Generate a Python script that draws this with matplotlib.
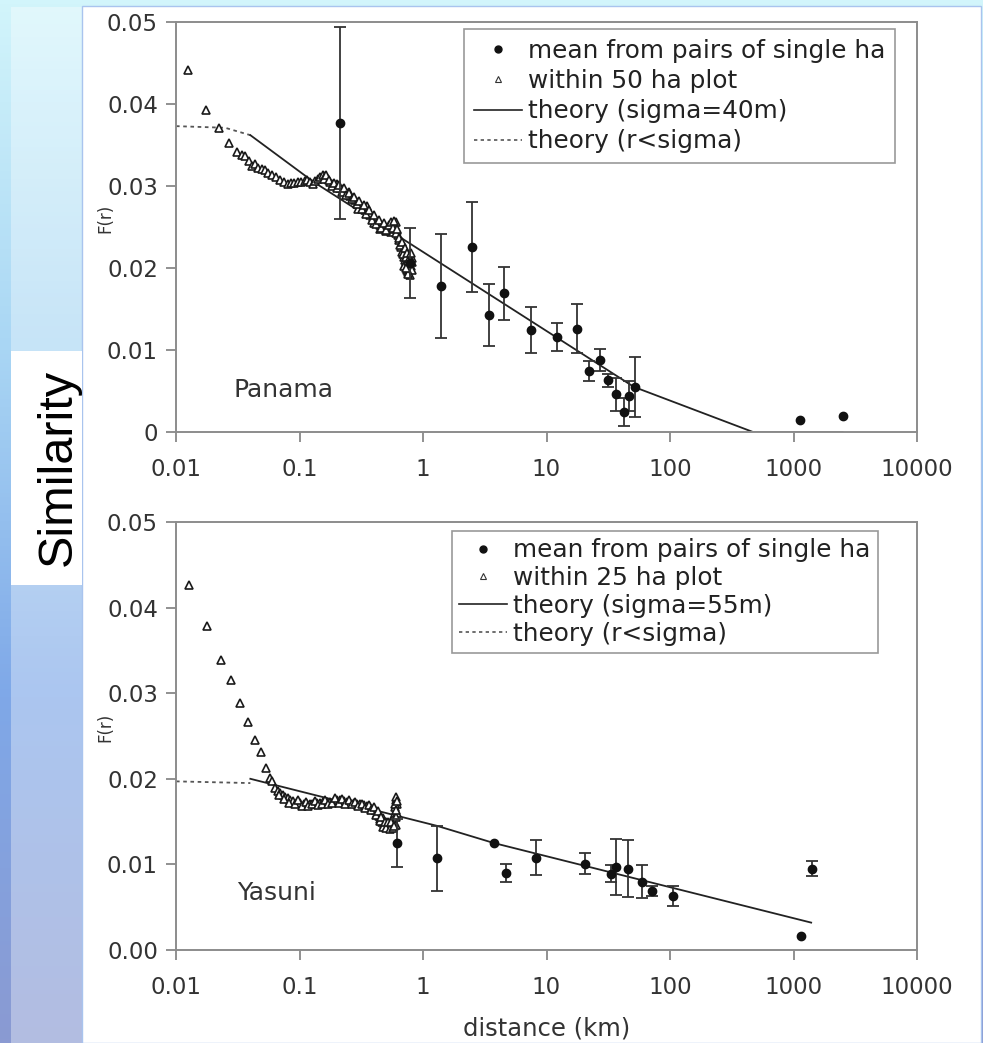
import numpy as np
import matplotlib
matplotlib.use('Agg')
import matplotlib.pyplot as plt
from matplotlib.lines import Line2D
from matplotlib.patches import Rectangle
from matplotlib.colors import LinearSegmentedColormap
from matplotlib.ticker import NullLocator

# ---- data ------------------------------------------------------------------

x_ticks = [0.01, 0.1, 1, 10, 100, 1000, 10000]
x_tick_labels = ['0.01', '0.1', '1', '10', '100', '1000', '10000']
y_ticks = [0, 0.01, 0.02, 0.03, 0.04, 0.05]
pan_y_tick_labels = ['0', '0.01', '0.02', '0.03', '0.04', '0.05']
yas_y_tick_labels = ['0.00', '0.01', '0.02', '0.03', '0.04', '0.05']

# Panama: mean from pairs of single ha (with error bars)
pan_mean_x = [0.214, 0.79, 1.40, 2.50, 3.41, 4.52, 7.43, 12.2, 17.8, 22.1,
              27.1, 31.7, 36.8, 42.5, 46.6, 52.2, 1135, 2535]
pan_mean_y = [0.0377, 0.0206, 0.0178, 0.0226, 0.0143, 0.0169, 0.0124, 0.0116,
              0.0126, 0.0074, 0.0088, 0.0063, 0.0046, 0.0024, 0.0044, 0.0055,
              0.0015, 0.0019]
pan_mean_err = [0.0117, 0.0043, 0.0063, 0.0055, 0.0038, 0.0032, 0.0028,
                0.0017, 0.0030, 0.0012, 0.0013, 0.0008, 0.0020, 0.0017,
                0.0018, 0.0037, 0, 0]

# Panama: within 50 ha plot
pan_plot_x = [0.0125, 0.0174, 0.0224, 0.0269, 0.0314, 0.0340, 0.0363, 0.0390,
              0.0411, 0.0440, 0.0465, 0.050, 0.053, 0.056, 0.060, 0.064,
              0.070, 0.075, 0.080, 0.085, 0.091, 0.097, 0.103, 0.110, 0.116,
              0.122, 0.128, 0.134, 0.140, 0.147, 0.154, 0.161, 0.169, 0.177,
              0.186, 0.195, 0.204, 0.214, 0.224, 0.234, 0.245, 0.257, 0.270,
              0.283, 0.296, 0.310, 0.325, 0.340, 0.357, 0.374, 0.392, 0.411,
              0.430, 0.451, 0.472, 0.495, 0.518, 0.543, 0.560, 0.576, 0.595,
              0.612, 0.628, 0.644, 0.662, 0.682, 0.700, 0.720, 0.735, 0.750,
              0.765, 0.780, 0.795, 0.810, 0.740, 0.760, 0.790, 0.770, 0.720,
              0.700, 0.30, 0.40, 0.35, 0.45, 0.25, 0.20, 0.55, 0.50, 0.60,
              0.58, 0.158, 0.165, 0.172, 0.182, 0.19, 0.20, 0.21, 0.22, 0.23,
              0.24, 0.25, 0.265, 0.277, 0.29, 0.303, 0.318, 0.333, 0.348,
              0.365, 0.383, 0.40, 0.42, 0.44, 0.46, 0.48, 0.505, 0.53, 0.55,
              0.57, 0.585, 0.60, 0.62, 0.635, 0.65, 0.67, 0.69, 0.71, 0.73,
              0.745, 0.76, 0.775, 0.80, 0.815, 0.78, 0.75, 0.82, 0.725,
              0.805]
pan_plot_y = [0.0442, 0.0393, 0.0371, 0.0353, 0.0342, 0.0338, 0.0336, 0.0330,
              0.0325, 0.0327, 0.0322, 0.0321, 0.0320, 0.0316, 0.0313, 0.0311,
              0.0307, 0.0305, 0.0303, 0.0304, 0.0304, 0.0305, 0.0305, 0.0306,
              0.0307, 0.0305, 0.0303, 0.0306, 0.0309, 0.0311, 0.0313, 0.0312,
              0.0309, 0.0305, 0.0303, 0.0301, 0.0299, 0.0297, 0.0296, 0.0294,
              0.0291, 0.0288, 0.0285, 0.0283, 0.0280, 0.0277, 0.0275, 0.0271,
              0.0268, 0.0265, 0.0262, 0.0259, 0.0256, 0.0253, 0.0251, 0.0250,
              0.0249, 0.0250, 0.0252, 0.0253, 0.0250, 0.0246, 0.0240, 0.0234,
              0.0226, 0.0220, 0.0214, 0.0210, 0.0207, 0.0204, 0.0206, 0.0203,
              0.0209, 0.0212, 0.0198, 0.0195, 0.0199, 0.0215, 0.0220, 0.0202,
              0.0272, 0.0255, 0.0276, 0.0248, 0.0293, 0.0302, 0.0244, 0.0245,
              0.0256, 0.0247, 0.0309, 0.0314, 0.0307, 0.0300, 0.0304, 0.0297,
              0.0301, 0.0293, 0.0297, 0.0289, 0.0292, 0.0284, 0.0287, 0.0278,
              0.0282, 0.0272, 0.0277, 0.0266, 0.0271, 0.0259, 0.0265, 0.0254,
              0.0259, 0.0249, 0.0255, 0.0246, 0.0253, 0.0256, 0.0249, 0.0257,
              0.0243, 0.0248, 0.0236, 0.0228, 0.0232, 0.0217, 0.0224, 0.0213,
              0.0218, 0.0209, 0.0200, 0.0203, 0.0197, 0.0192, 0.0193, 0.0207,
              0.0200, 0.0218]

# Panama: theory
pan_theory_x = [0.04, 0.13, 0.66, 51, 470, 2500]
pan_theory_y = [0.0362, 0.0305, 0.0237, 0.0055, 0.0, 0.0]
pan_sigma_x = [0.01, 0.025, 0.04]
pan_sigma_y = [0.0373, 0.0371, 0.0362]

# Yasuni: mean from pairs of single ha (with error bars)
yas_mean_x = [0.617, 1.30, 3.74, 4.66, 8.17, 20.5, 33.5, 36.8, 45.7, 59.8,
              71.1, 106, 1151, 1402]
yas_mean_y = [0.0125, 0.0107, 0.0125, 0.0090, 0.0108, 0.0101, 0.0089, 0.0097,
              0.0095, 0.0080, 0.0069, 0.0063, 0.0016, 0.0095]
yas_mean_err = [0.0028, 0.0038, 0, 0.0011, 0.0020, 0.0012, 0.0010, 0.0033,
                0.0033, 0.0019, 0.0006, 0.0012, 0, 0.0009]

# Yasuni: within 25 ha plot
yas_plot_x = [0.01275, 0.01795, 0.0230, 0.0279, 0.0330, 0.0385, 0.0437,
              0.0489, 0.0536, 0.0577, 0.0595, 0.0635, 0.0665, 0.0698, 0.073,
              0.0765, 0.080, 0.0839, 0.089, 0.0952, 0.101, 0.1078, 0.115,
              0.122, 0.130, 0.138, 0.147, 0.156, 0.166, 0.177, 0.189, 0.201,
              0.214, 0.228, 0.243, 0.258, 0.275, 0.292, 0.310, 0.330, 0.351,
              0.373, 0.390, 0.41, 0.425, 0.438, 0.452, 0.466, 0.48, 0.496,
              0.512, 0.528, 0.544, 0.562, 0.58, 0.59, 0.597, 0.606, 0.61,
              0.617, 0.60, 0.612, 0.50, 0.55, 0.47, 0.60, 0.068, 0.075, 0.082,
              0.092, 0.098, 0.105, 0.112, 0.118, 0.126, 0.134, 0.142, 0.151,
              0.161, 0.171, 0.183, 0.195, 0.207, 0.221, 0.235, 0.25, 0.266,
              0.283, 0.30, 0.32, 0.34, 0.362, 0.38, 0.40, 0.418, 0.432,
              0.445, 0.46, 0.475, 0.49, 0.505, 0.52, 0.536, 0.552, 0.57,
              0.585, 0.593, 0.603, 0.615]
yas_plot_y = [0.0426, 0.0379, 0.0339, 0.0315, 0.0289, 0.0266, 0.0245, 0.0231,
              0.0213, 0.0201, 0.0197, 0.0189, 0.0186, 0.0183, 0.0181, 0.0179,
              0.0177, 0.0175, 0.0174, 0.0173, 0.0172, 0.0171, 0.0171, 0.0171,
              0.0172, 0.0172, 0.0172, 0.0173, 0.0173, 0.0173, 0.0174, 0.0175,
              0.0175, 0.0174, 0.0173, 0.0172, 0.0172, 0.0171, 0.0170, 0.0169,
              0.0168, 0.0167, 0.0165, 0.0163, 0.0160, 0.0157, 0.0153, 0.0150,
              0.0147, 0.0146, 0.0146, 0.0145, 0.0146, 0.0147, 0.0150, 0.0160,
              0.0167, 0.0175, 0.0179, 0.0160, 0.0155, 0.0170, 0.0150, 0.0151,
              0.0154, 0.0146, 0.0181, 0.0176, 0.0172, 0.0170, 0.0175, 0.0168,
              0.0173, 0.0168, 0.0170, 0.0174, 0.0169, 0.0171, 0.0175, 0.0170,
              0.0172, 0.0177, 0.0172, 0.0176, 0.0171, 0.0175, 0.0170, 0.0173,
              0.0168, 0.0171, 0.0166, 0.0169, 0.0163, 0.0167, 0.0158, 0.0162,
              0.0151, 0.0155, 0.0144, 0.0150, 0.0142, 0.0150, 0.0141, 0.0149,
              0.0143, 0.0145, 0.0170, 0.0163, 0.0174]

# Yasuni: theory
yas_theory_x = [0.04, 1.3, 3.74, 1390]
yas_theory_y = [0.0200, 0.0145, 0.0125, 0.0032]
yas_sigma_x = [0.01, 0.04]
yas_sigma_y = [0.0197, 0.0195]

# ---- figure ----------------------------------------------------------------

W, H = 983, 1043
fig = plt.figure(figsize=(W / 100, H / 100), dpi=100)

# Slide background behind the chart image
bg = fig.add_axes([0, 0, 1, 1], zorder=-10)
slide = LinearSegmentedColormap.from_list(
    'slide', ['#d2f5fb', '#a9d6f4', '#7fa8e8', '#8a9ad2'])
bg.imshow(np.linspace(0, 1, 256)[:, None], aspect='auto', cmap=slide,
          extent=[0, W, H, 0])
bg.add_patch(Rectangle((11, 7), 71, H - 7, facecolor='white', alpha=0.35,
                       lw=0))
bg.add_patch(Rectangle((82, 6), W - 84, H - 6, facecolor='white',
                       edgecolor='#a9c4ee', lw=1))
bg.add_patch(Rectangle((11, 351), 71, 234, facecolor='white', lw=0))
bg.set_xlim(0, W)
bg.set_ylim(H, 0)
bg.axis('off')

fig.text(58 / W, 1 - 467 / H, 'Similarity', rotation=90, fontsize=35,
         family='Liberation Sans', ha='center', va='center', color='black')

ax1 = fig.add_axes([176 / W, 1 - 432 / H, 741 / W, 410 / H])
ax2 = fig.add_axes([176 / W, 1 - 950 / H, 741 / W, 428 / H])


def draw_panel(ax, mean_x, mean_y, mean_err, plot_x, plot_y, theory_x,
               theory_y, sigma_x, sigma_y, y_labels, site, site_pos):
    ax.set_xscale('log')
    ax.set_xlim(0.01, 10000)
    ax.set_ylim(0, 0.05)

    ax.plot(sigma_x, sigma_y, color='#555555', lw=1.3, ls=(0, (2, 2)))
    ax.plot(theory_x, theory_y, color='#222222', lw=1.3)
    ax.plot(plot_x, plot_y, ls='none', marker='^', ms=5.5, mfc='white',
            mec='#1a1a1a', mew=1.2)

    # error bars only where the reference shows them
    err = np.array(mean_err)
    has_err = err > 0
    ax.errorbar(np.array(mean_x)[has_err], np.array(mean_y)[has_err],
                yerr=err[has_err], fmt='none', ecolor='#333333',
                elinewidth=1.3, capsize=4.5, capthick=1.3)
    ax.plot(mean_x, mean_y, ls='none', marker='o', ms=6, color='#111111')

    ax.set_xticks(x_ticks)
    ax.set_xticklabels(x_tick_labels)
    ax.xaxis.set_minor_locator(NullLocator())
    ax.set_yticks(y_ticks)
    ax.set_yticklabels(y_labels)
    ax.tick_params(direction='out', length=7, width=1.3, color='#888888',
                   labelsize=16.5, labelcolor='#333333')
    ax.tick_params(axis='x', pad=12)
    ax.tick_params(axis='y', pad=6)
    for spine in ax.spines.values():
        spine.set_color('#8c8c8c')
        spine.set_linewidth(1.4)

    ax.text(-0.095, 0.52, 'F(r)', rotation=90, fontsize=12, color='#333333',
            ha='center', va='center', transform=ax.transAxes)
    ax.text(site_pos[0], site_pos[1], site, fontsize=18, color='#333333',
            va='center', transform=ax.transAxes)


draw_panel(ax1, pan_mean_x, pan_mean_y, pan_mean_err, pan_plot_x, pan_plot_y,
           pan_theory_x, pan_theory_y, pan_sigma_x, pan_sigma_y,
           pan_y_tick_labels, 'Panama', (0.077, 0.102))
draw_panel(ax2, yas_mean_x, yas_mean_y, yas_mean_err, yas_plot_x, yas_plot_y,
           yas_theory_x, yas_theory_y, yas_sigma_x, yas_sigma_y,
           yas_y_tick_labels, 'Yasuni', (0.082, 0.133))

ax2.set_xlabel('distance (km)', fontsize=17.5, color='#333333')
ax2.xaxis.set_label_coords(0.5, -0.155)


def legend_handles():
    return [
        Line2D([], [], ls='none', marker='o', ms=5, color='#111111'),
        Line2D([], [], ls='none', marker='^', ms=4.5, mfc='white',
               mec='#333333', mew=0.8),
        Line2D([], [], color='#222222', lw=1.2),
        Line2D([], [], color='#555555', lw=1.2, ls=(0, (2, 2))),
    ]


for ax, plot_label, theory_label, anchor, spacing, pad in [
        (ax1, 'within 50 ha plot', 'theory (sigma=40m)', (0.389, 0.983),
         0.25, 0.4),
        (ax2, 'within 25 ha plot', 'theory (sigma=55m)', (0.372, 0.979),
         0.15, 0.3)]:
    leg = ax.legend(legend_handles(),
                    ['mean from pairs of single ha', plot_label, theory_label,
                     'theory (r<sigma)'],
                    loc='upper left', bbox_to_anchor=anchor, borderaxespad=0,
                    fontsize=17.8, fancybox=False, framealpha=1,
                    edgecolor='#999999', handlelength=1.93,
                    handletextpad=0.25, labelspacing=spacing, borderpad=pad)
    leg.get_frame().set_linewidth(1.2)
    for t in leg.get_texts():
        t.set_color('#222222')

fig.savefig('out.png', dpi=100)
